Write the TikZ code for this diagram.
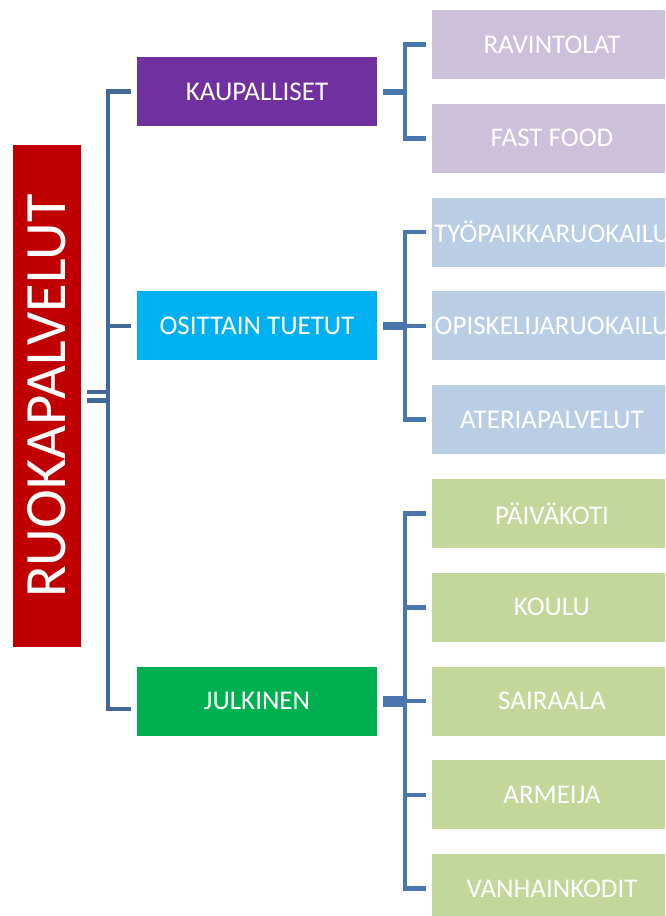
\documentclass[tikz,border=0pt]{standalone}
\usepackage{fontspec}
\setmainfont{Carlito}
\usetikzlibrary{positioning}
\definecolor{rootred}{HTML}{C00000}
\definecolor{kpurple}{HTML}{7030A0}
\definecolor{ocyan}{HTML}{00B0F0}
\definecolor{jgreen}{HTML}{00B050}
\definecolor{lpurple}{HTML}{CCC0DA}
\definecolor{lblue}{HTML}{B9CDE5}
\definecolor{lgreen}{HTML}{C4D79B}
\definecolor{linkblue}{RGB}{74,118,174}
\definecolor{linkdark}{RGB}{65,104,152}

\begin{document}
\begin{tikzpicture}[x=1pt,y=-1pt,node distance=24.8pt,
  box/.style={minimum width=240pt,minimum height=69pt,inner sep=0pt,outer sep=0pt,
    text=white,font=\fontsize{27}{30}\selectfont},
  link/.style={draw=linkblue,line width=4.5pt}]
\useasboundingbox (0,0) rectangle (665,916);
\clip (0,0) rectangle (665,916);
\node[rotate=90,fill=rootred,minimum width=502pt,minimum height=68pt,inner sep=0pt,
  outer sep=0pt,text=white,font=\fontsize{58.5}{60}\selectfont] (root) at (47,396) {RUOKAPALVELUT};
\node[box,fill=lpurple] (rav) at (552,44.5) {RAVINTOLAT};
\node[box,fill=lpurple,below=of rav] (ff) {FAST FOOD};
\node[box,fill=lblue,below=of ff] (tyo) {TYÖPAIKKARUOKAILU};
\node[box,fill=lblue,below=of tyo] (opis) {OPISKELIJARUOKAILU};
\node[box,fill=lblue,below=of opis] (ater) {ATERIAPALVELUT};
\node[box,fill=lgreen,below=of ater] (paiv) {PÄIVÄKOTI};
\node[box,fill=lgreen,below=of paiv] (koul) {KOULU};
\node[box,fill=lgreen,below=of koul] (sair) {SAIRAALA};
\node[box,fill=lgreen,below=of sair] (arme) {ARMEIJA};
\node[box,fill=lgreen,below=of arme] (vanh) {VANHAINKODIT};
\node[box,fill=kpurple] (kaup) at (257,91.5) {KAUPALLISET};
\node[box,fill=ocyan] (osit) at (kaup |- opis) {OSITTAIN TUETUT};
\node[box,fill=jgreen] (julk) at (kaup |- sair) {JULKINEN};
\draw[link,draw=linkdark,double=white,double distance=4pt]
  ([xshift=6pt]root.south) -- ([xshift=27pt]root.south);
\draw[link,draw=linkdark] ([xshift=-6pt]kaup.west) -| ([xshift=-29pt,yshift=-8pt]julk.west)
  -- ([xshift=-6pt,yshift=-8pt]julk.west);
\draw[link,draw=linkdark] ([xshift=-29pt]osit.west) -- ([xshift=-6pt]osit.west);
\foreach \p/\a/\b/\w in {kaup/rav/ff/6pt,osit/tyo/ater/8pt,julk/paiv/vanh/11pt}{
  \draw[link,line width=\w] ([xshift=6pt]\p.east) -- ([xshift=28pt]\p.east);
  \draw[link] ([xshift=-6pt]\a.west) -| ([xshift=-27pt]\b.west) -- ([xshift=-6pt]\b.west);
}
\foreach \c in {opis,koul,sair,arme}
  \draw[link] ([xshift=-27pt]\c.west) -- ([xshift=-6pt]\c.west);
\end{tikzpicture}
\end{document}
